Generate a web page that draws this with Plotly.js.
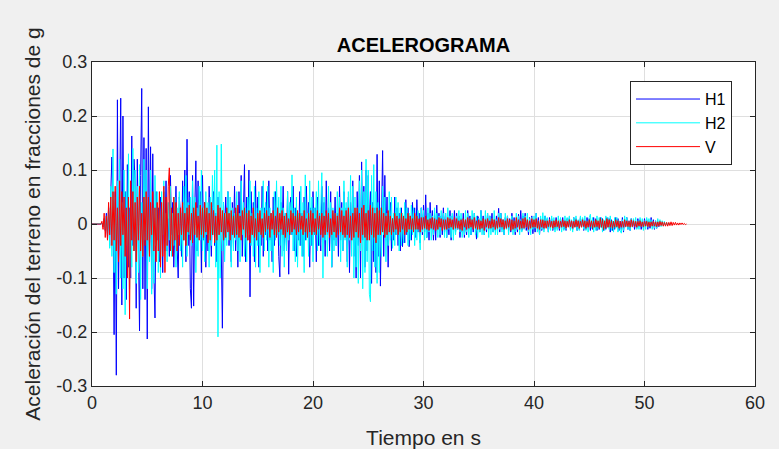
<!DOCTYPE html>
<html>
<head>
<meta charset="utf-8">
<script src="https://cdn.plot.ly/plotly-3.0.1.min.js"></script>
<style>html,body{margin:0;padding:0;background:#f0f0f0;}#chart{width:779px;height:449px;}</style>
</head>
<body>
<div id="chart"></div>
<script>
// sample interval of the records (s)
const DT = 0.1;

const seriesNames = ["H1", "H2", "V"];

// H1 component (fractions of g), one row per second
const h1Values = [
0,0,0,0,0,0,0,0,0,0.002,
-0.005,0.01,-0.012,0.02,-0.025,0.03,-0.04,0.06,0.124,0.03,
-0.205,0.06,-0.28,0.23,-0.12,0.04,0.233,-0.15,0.2,-0.1,
0.06,-0.14,0.11,-0.08,0.03,-0.1,0.163,-0.04,0.12,0.08,
-0.156,0.12,-0.03,-0.198,0.09,0.251,-0.12,0.16,-0.14,0.14,
-0.213,0.217,-0.05,0.143,-0.12,0.13,-0.09,-0.174,0.06,-0.03,
0.03,-0.07,0.05,0.02,-0.09,0.06,-0.03,0.08,-0.05,0.01,
-0.06,0.09,-0.02,0.04,-0.08,0.03,0.07,-0.04,-0.1,0.05,
0.02,-0.06,0.08,-0.03,0.1,-0.07,0.157,-0.04,0.06,-0.12,
-0.156,0.09,-0.152,0.03,0.117,-0.05,0.08,-0.02,0.06,-0.09,
0.09,-0.03,0.04,-0.08,0.02,-0.05,0.07,0.01,-0.06,0.03,
0.06,-0.04,0.02,-0.07,0.05,-0.02,0.03,-0.05,-0.193,0.04,
-0.03,0.05,-0.01,0.06,-0.04,0.02,-0.07,0.04,-0.02,0.07,
-0.05,0.03,-0.08,0.06,-0.02,0.09,-0.06,0.02,0.11,-0.07,
0.05,-0.03,0.1,-0.135,0.06,-0.02,0.04,-0.07,0.08,-0.03,
0.05,-0.08,0.02,-0.04,0.07,-0.06,0.03,-0.02,0.06,-0.05,
0.08,-0.03,0.02,-0.07,0.05,-0.04,0.06,-0.01,0.03,-0.06,
-0.098,0.04,-0.02,0.07,-0.05,0.02,-0.04,0.06,-0.093,0.03,
0.05,-0.02,0.07,-0.05,0.03,-0.06,0.02,-0.03,0.06,-0.04,
0.02,-0.06,0.05,-0.03,0.07,-0.02,0.04,-0.08,0.03,-0.04,
0.06,-0.02,0.03,-0.07,0.05,-0.04,0.02,-0.05,0.07,-0.03,
0.04,-0.06,0.08,-0.02,0.03,-0.05,0.06,-0.08,0.02,-0.03,
0.05,-0.04,0.02,-0.06,0.07,-0.03,0.04,-0.05,0.06,-0.02,
0.03,-0.07,0.05,-0.09,0.04,-0.03,0.08,-0.06,0.02,-0.1,
0.06,-0.04,0.09,-0.1,0.115,-0.03,0.07,-0.08,0.1,-0.05,
0.09,-0.02,0.06,-0.11,0.04,-0.07,0.03,-0.09,0.129,-0.06,
0.08,-0.115,0.02,0.136,-0.06,0.09,-0.03,0.05,-0.08,0.02,
0.04,-0.05,0.01,-0.03,0.05,-0.02,0.03,-0.04,0.02,-0.05,
0.03,-0.042,0.01,-0.035,0.045,-0.02,0.03,-0.042,0.015,-0.03,
0.04,-0.01,0.03,-0.025,0.045,-0.015,0.02,-0.035,0.03,-0.02,
0.035,-0.015,0.054,-0.025,0.02,-0.03,0.04,-0.01,0.025,-0.03,
0.02,-0.03,0.035,-0.01,0.02,-0.025,0.015,-0.02,0.03,-0.015,
0.02,-0.025,0.01,-0.02,0.025,-0.03,0.015,-0.01,0.025,-0.015,
0.02,-0.01,0.015,-0.025,0.01,-0.015,0.02,-0.025,0.008,-0.02,
0.025,-0.01,0.015,-0.02,0.01,-0.015,0.02,-0.008,-0.028,0.015,
0.01,-0.015,0.025,-0.008,0.015,-0.02,0.01,-0.015,0.02,-0.01,
0.015,-0.005,0.02,-0.015,0.008,-0.012,0.015,-0.01,0.029,-0.015,
0.02,-0.01,0.008,-0.02,0.012,-0.006,0.015,-0.012,0.01,-0.015,
0.02,-0.008,0.012,-0.02,0.006,-0.015,0.018,-0.01,0.025,-0.012,
0.015,-0.006,0.02,-0.012,0.008,-0.02,0.012,-0.005,0.015,-0.018,
0.008,-0.015,0.02,-0.006,0.012,-0.02,0.01,-0.012,0.006,-0.01,
0.015,-0.006,0.01,-0.015,0.012,-0.004,0.01,-0.012,0.006,-0.01,
0.012,-0.008,0.004,-0.012,0.01,-0.006,0.012,-0.01,0.005,-0.012,
0.01,-0.004,0.012,-0.01,0.006,-0.01,0.012,-0.005,0.01,-0.012,
0.006,-0.01,0.012,-0.004,0.01,-0.012,0.006,-0.01,0.012,-0.006,
0.01,-0.012,0.005,-0.01,0.012,-0.006,0.01,-0.012,0.004,-0.01,
0.012,-0.006,0.01,-0.012,0.005,-0.01,0.012,-0.006,0.01,-0.015,
0.008,-0.012,0.004,-0.01,0.012,-0.006,0.01,-0.012,0.005,-0.01,
0.012,-0.015,0.008,-0.004,0.012,-0.01,0.006,-0.012,0.01,-0.005,
0.008,-0.01,0.004,-0.008,0.01,-0.005,0.008,-0.01,0.004,-0.008,
0.01,-0.004,0.008,-0.01,0.005,-0.008,0.012,-0.004,0.008,-0.01,
0.006,-0.008,0.004,-0.005,0.003,0
];

// H2 component (fractions of g)
const h2Values = [
0,0,0,0,0,0,0,0,0,0.001,
-0.004,0.008,-0.01,0.015,-0.02,0.03,-0.045,0.07,-0.06,0.139,
-0.09,0.05,-0.13,0.08,-0.03,0.12,-0.1,0.04,-0.12,0.1,
-0.168,0.06,-0.04,0.13,-0.12,0.03,-0.08,0.14,-0.05,0.1,
-0.11,0.07,-0.09,0.11,-0.14,0.04,-0.06,0.12,-0.03,0.1,
-0.12,0.05,-0.07,0.1,-0.13,0.03,-0.11,0.09,-0.04,0.06,
-0.09,0.03,-0.1,0.06,-0.02,0.08,-0.05,0.02,-0.07,0.04,
-0.03,0.07,-0.06,0.02,-0.04,0.05,-0.08,0.03,-0.02,0.06,
-0.05,0.02,-0.08,0.07,-0.03,0.09,-0.06,0.04,-0.02,0.05,
-0.04,0.08,-0.02,0.05,-0.09,0.03,-0.06,0.07,-0.03,0.1,
-0.05,0.03,-0.07,0.06,-0.02,0.04,-0.08,0.05,-0.04,0.09,
-0.02,0.1,-0.08,0.146,-0.209,0.06,-0.1,0.148,-0.05,0.04,
-0.07,0.02,-0.04,0.06,-0.03,0.05,-0.08,0.03,-0.05,0.02,
-0.03,0.06,-0.05,0.02,-0.07,0.08,-0.02,0.04,-0.06,0.03,
-0.07,0.05,-0.02,0.08,-0.04,0.02,-0.06,0.07,-0.08,0.03,
-0.04,0.06,-0.09,0.03,-0.02,0.08,-0.05,0.04,-0.03,0.07,
-0.08,0.03,-0.05,0.02,-0.09,0.06,-0.03,0.08,-0.02,0.05,
-0.04,0.07,-0.06,0.03,-0.08,0.02,-0.05,0.06,-0.03,0.04,
-0.02,0.091,-0.05,0.03,-0.07,0.05,-0.08,0.02,-0.04,0.07,
-0.06,0.04,-0.09,0.091,-0.03,0.02,-0.06,0.08,-0.04,0.05,
-0.07,0.03,-0.02,0.06,-0.05,0.08,-0.04,0.02,0.095,-0.1,
0.05,-0.03,0.02,-0.06,0.07,-0.02,0.04,-0.08,0.03,-0.05,
0.02,-0.04,0.06,-0.02,0.05,-0.07,0.03,-0.05,0.08,-0.03,
0.04,-0.08,0.06,-0.03,0.09,-0.06,0.07,-0.1,0.05,-0.08,
0.03,-0.11,0.08,-0.05,0.1,-0.12,0.06,-0.09,0.12,-0.07,
0.1,-0.13,-0.144,0.09,-0.05,0.11,-0.08,0.06,-0.11,0.04,
-0.09,0.03,-0.06,0.07,-0.02,0.05,-0.07,0.02,-0.04,0.06,
-0.03,0.05,-0.045,0.02,-0.04,0.05,-0.02,0.04,-0.05,0.03,
-0.04,0.02,-0.035,0.04,-0.015,0.03,-0.04,0.02,-0.03,0.035,
-0.02,0.03,-0.04,0.015,-0.03,0.025,-0.02,-0.048,0.03,-0.015,
0.025,-0.03,0.01,-0.025,0.03,-0.015,0.02,-0.03,0.015,-0.02,
0.03,-0.01,0.02,-0.025,0.015,-0.02,0.025,-0.01,0.02,-0.025,
0.02,-0.025,0.03,-0.01,0.015,-0.025,0.02,-0.03,0.01,-0.02,
0.015,-0.01,0.025,-0.015,0.02,-0.025,0.008,-0.02,0.025,-0.015,
0.02,-0.025,0.01,-0.02,0.025,-0.008,0.02,-0.02,0.015,-0.025,
0.01,-0.015,0.025,-0.02,0.008,-0.02,0.025,-0.01,0.02,-0.025,
0.015,-0.02,0.01,-0.015,0.025,-0.02,0.008,-0.02,0.02,-0.01,
0.02,-0.015,0.008,-0.02,0.02,-0.01,0.015,-0.02,0.006,-0.01,
0.015,-0.02,0.006,-0.015,0.02,-0.01,0.015,-0.02,0.008,-0.015,
0.02,-0.01,0.015,-0.006,0.02,-0.015,0.01,-0.02,0.012,-0.01,
0.015,-0.008,0.02,-0.015,0.006,-0.02,0.015,-0.01,0.021,-0.015,
0.015,-0.006,0.012,-0.015,0.008,-0.012,0.015,-0.01,0.012,-0.015,
0.006,-0.012,0.015,-0.008,0.012,-0.015,0.006,-0.012,0.015,-0.01,
0.012,-0.005,0.015,-0.012,0.008,-0.015,0.012,-0.006,0.015,-0.012,
0.008,-0.012,0.015,-0.006,0.012,-0.01,0.015,-0.012,0.006,-0.015,
0.012,0.018,-0.008,0.012,-0.015,0.006,-0.012,0.015,-0.01,0.012,
-0.006,0.012,-0.015,0.008,-0.012,0.015,-0.006,0.012,-0.01,0.015,
-0.012,0.006,-0.015,0.012,-0.008,0.012,-0.015,0.006,-0.012,-0.017,
0.008,-0.012,0.015,-0.006,0.012,-0.01,0.005,-0.012,0.01,-0.006,
0.01,-0.005,0.012,-0.01,0.006,-0.01,0.012,-0.005,0.01,-0.012,
0.006,-0.01,0.012,-0.006,0.01,-0.004,0.008,-0.01,0.005,-0.008,
0.006,-0.008,0.01,-0.004,0.008,-0.005,0.006,-0.004,0.005,-0.003,
0.003,-0.002,0.002,-0.001,0.001,0
];

// V component (fractions of g)
const vValues = [
0,0,0,0,0,0,0,0,0,0.005,
-0.01,0.02,-0.025,0.015,-0.03,0.04,-0.02,0.05,-0.04,0.06,
-0.03,0.07,-0.05,0.03,-0.07,0.08,-0.04,0.06,-0.02,0.05,
-0.06,0.03,-0.1,0.05,-0.176,0.08,-0.03,0.06,-0.05,0.04,
-0.07,0.05,-0.03,0.07,-0.05,0.02,-0.06,0.05,-0.04,0.06,
-0.03,0.05,-0.06,0.04,-0.02,0.06,-0.05,0.03,-0.07,0.04,
-0.05,0.06,-0.08,0.04,-0.06,0.07,-0.09,0.05,-0.04,0.07,
0.104,-0.05,0.03,-0.06,0.05,-0.03,0.04,-0.05,0.02,-0.04,
0.03,-0.02,0.04,-0.03,0.02,-0.04,0.03,-0.015,0.035,-0.03,
0.02,-0.035,0.03,-0.02,0.04,-0.025,0.015,-0.03,0.035,-0.02,
0.03,-0.025,0.04,-0.015,0.03,-0.035,0.02,-0.03,0.04,-0.02,
0.025,-0.035,0.015,-0.03,0.035,-0.02,0.03,-0.015,0.025,-0.03,
0.02,-0.025,0.03,-0.015,0.02,-0.03,0.025,-0.02,0.015,-0.025,
0.03,-0.02,0.035,-0.025,0.015,-0.03,0.025,-0.01,0.03,-0.025,
0.02,-0.03,0.025,-0.035,0.015,-0.02,0.03,-0.025,0.01,-0.03,
0.02,-0.015,0.025,-0.02,0.01,-0.025,0.02,-0.015,0.025,-0.01,
0.015,-0.025,0.02,-0.01,0.025,-0.02,0.015,-0.025,0.03,-0.015,
0.02,-0.01,0.025,-0.02,0.015,-0.025,0.02,-0.015,0.01,-0.02,
0.025,-0.015,0.02,-0.01,0.015,-0.02,0.025,-0.015,0.02,-0.01,
0.015,-0.02,0.025,-0.015,0.01,-0.025,0.02,-0.015,0.025,-0.02,
0.02,-0.015,0.01,-0.02,0.025,-0.01,0.015,-0.02,0.02,-0.025,
0.015,-0.02,0.025,-0.015,0.02,-0.025,0.01,-0.02,0.025,-0.015,
0.02,-0.025,0.015,-0.02,0.03,-0.015,0.025,-0.02,0.015,-0.025,
0.025,-0.02,0.03,-0.025,0.015,-0.03,0.02,-0.025,0.03,-0.015,
0.03,-0.025,0.02,-0.035,0.03,-0.02,0.035,-0.025,0.02,-0.03,
0.025,-0.03,0.035,-0.02,0.03,-0.025,0.02,-0.035,0.03,-0.02,
0.025,-0.02,0.03,-0.015,0.02,-0.025,0.015,-0.02,0.025,-0.015,
0.015,-0.02,0.01,-0.015,0.02,-0.01,0.015,-0.02,0.01,-0.015,
0.02,-0.01,0.015,-0.02,0.01,-0.015,0.02,-0.01,0.015,-0.01,
0.01,-0.015,0.02,-0.01,0.015,-0.01,0.01,-0.015,0.012,-0.01,
0.012,-0.008,0.015,-0.01,0.008,-0.012,0.01,-0.008,0.012,-0.01,
0.01,-0.012,0.008,-0.01,0.012,-0.006,0.01,-0.012,0.008,-0.01,
0.008,-0.01,0.012,-0.008,0.01,-0.006,0.008,-0.01,0.012,-0.008,
0.01,-0.008,0.006,-0.01,0.008,-0.012,0.01,-0.006,0.008,-0.01,
0.012,-0.008,0.01,-0.006,0.008,-0.01,0.012,-0.008,0.006,-0.01,
0.008,-0.01,0.006,-0.008,0.01,-0.012,0.008,-0.006,0.01,-0.008,
0.006,-0.008,0.01,-0.006,0.008,-0.01,0.006,-0.008,0.012,-0.006,
0.01,-0.006,0.008,-0.01,0.006,-0.008,0.01,-0.006,0.008,-0.012,
0.008,-0.01,0.006,-0.008,0.012,-0.006,0.008,-0.01,0.006,-0.008,
0.01,-0.008,0.012,-0.006,0.008,-0.01,0.006,-0.008,0.01,-0.006,
0.008,-0.006,0.01,-0.008,0.006,-0.01,0.008,-0.006,0.008,-0.008,
0.006,-0.008,0.006,-0.005,0.008,-0.006,0.005,-0.008,0.006,-0.006,
0.008,-0.005,0.006,-0.008,0.005,-0.006,0.008,-0.005,0.006,-0.008,
0.005,-0.006,0.008,-0.005,0.006,-0.008,0.005,-0.006,0.008,-0.005,
0.006,-0.008,0.005,-0.006,0.008,-0.005,0.006,-0.008,0.005,-0.006,
0.008,-0.005,0.006,-0.008,0.005,-0.006,0.008,-0.005,0.006,-0.008,
0.01,-0.006,0.008,-0.01,0.006,-0.008,0.01,-0.006,0.008,-0.006,
0.006,-0.008,0.005,-0.006,0.008,-0.005,0.006,-0.008,0.005,-0.006,
0.005,-0.006,0.008,-0.005,0.006,-0.005,0.005,-0.006,0.008,-0.005,
0.006,-0.005,0.005,-0.006,0.005,-0.004,0.006,-0.005,0.004,-0.005,
0.005,-0.004,0.005,-0.005,0.004,-0.005,0.004,-0.004,0.005,-0.004,
0.004,-0.005,0.004,-0.004,0.005,-0.003,0.004,-0.004,0.003,-0.004,
0.003,-0.004,0.003,-0.003,0.004,-0.003,0.003,-0.002,0.003,-0.002,
0.002,-0.002,0.002,-0.001,0.002,-0.001,0.001,-0.001,0
];

const seriesColors = ["#0000ff", "#00ffff", "#ff0000"];

const yTickVals = [-0.3, -0.2, -0.1, 0, 0.1, 0.2, 0.3];
const yTickText = ["-0.3", "-0.2", "-0.1", "0", "0.1", "0.2", "0.3"];
const xTickVals = [0, 10, 20, 30, 40, 50, 60];

const allValues = [h1Values, h2Values, vValues];
const traces = allValues.map((vals, k) => ({
  type: "scatter",
  mode: "lines",
  name: seriesNames[k],
  x: vals.map((_, i) => +(i * DT).toFixed(2)),
  y: vals,
  line: { color: seriesColors[k], width: 1 }
}));

const FONT = "Liberation Sans, Arial, Helvetica, sans-serif";
const axisCommon = {
  showline: true, linecolor: "#262626", linewidth: 1, mirror: "ticks",
  ticks: "inside", ticklen: 5, tickcolor: "#262626",
  showgrid: true, gridcolor: "#dfdfdf", gridwidth: 1,
  zeroline: false,
  tickfont: { family: FONT, size: 18, color: "#262626" }
};

const layout = {
  width: 779, height: 449,
  paper_bgcolor: "#f0f0f0", plot_bgcolor: "#ffffff",
  margin: { l: 92, r: 24, t: 62, b: 63 },
  font: { family: FONT, color: "#262626" },
  title: { text: "<b>ACELEROGRAMA</b>", font: { family: FONT, size: 20, color: "#000000" },
           x: 0.5436, xanchor: "center", y: 0.9, yref: "container", yanchor: "middle" },
  xaxis: Object.assign({}, axisCommon, {
    range: [0, 60], tickvals: xTickVals,
    title: { text: "Tiempo en s", font: { family: FONT, size: 21, color: "#262626" } }
  }),
  yaxis: Object.assign({}, axisCommon, {
    range: [-0.3, 0.3], tickvals: yTickVals, ticktext: yTickText,
    title: { text: "Aceleración del terreno en fracciones de g", font: { family: FONT, size: 21, color: "#262626" } }
  }),
  showlegend: true,
  legend: {
    x: 0.8115, y: 0.941, xanchor: "left", yanchor: "top",
    bgcolor: "#ffffff", bordercolor: "#262626", borderwidth: 1,
    font: { family: FONT, size: 16, color: "#000000" },
    itemwidth: 64, tracegroupgap: 0
  }
};

Plotly.newPlot("chart", traces, layout, { displayModeBar: false, staticPlot: true });
</script>
</body>
</html>
